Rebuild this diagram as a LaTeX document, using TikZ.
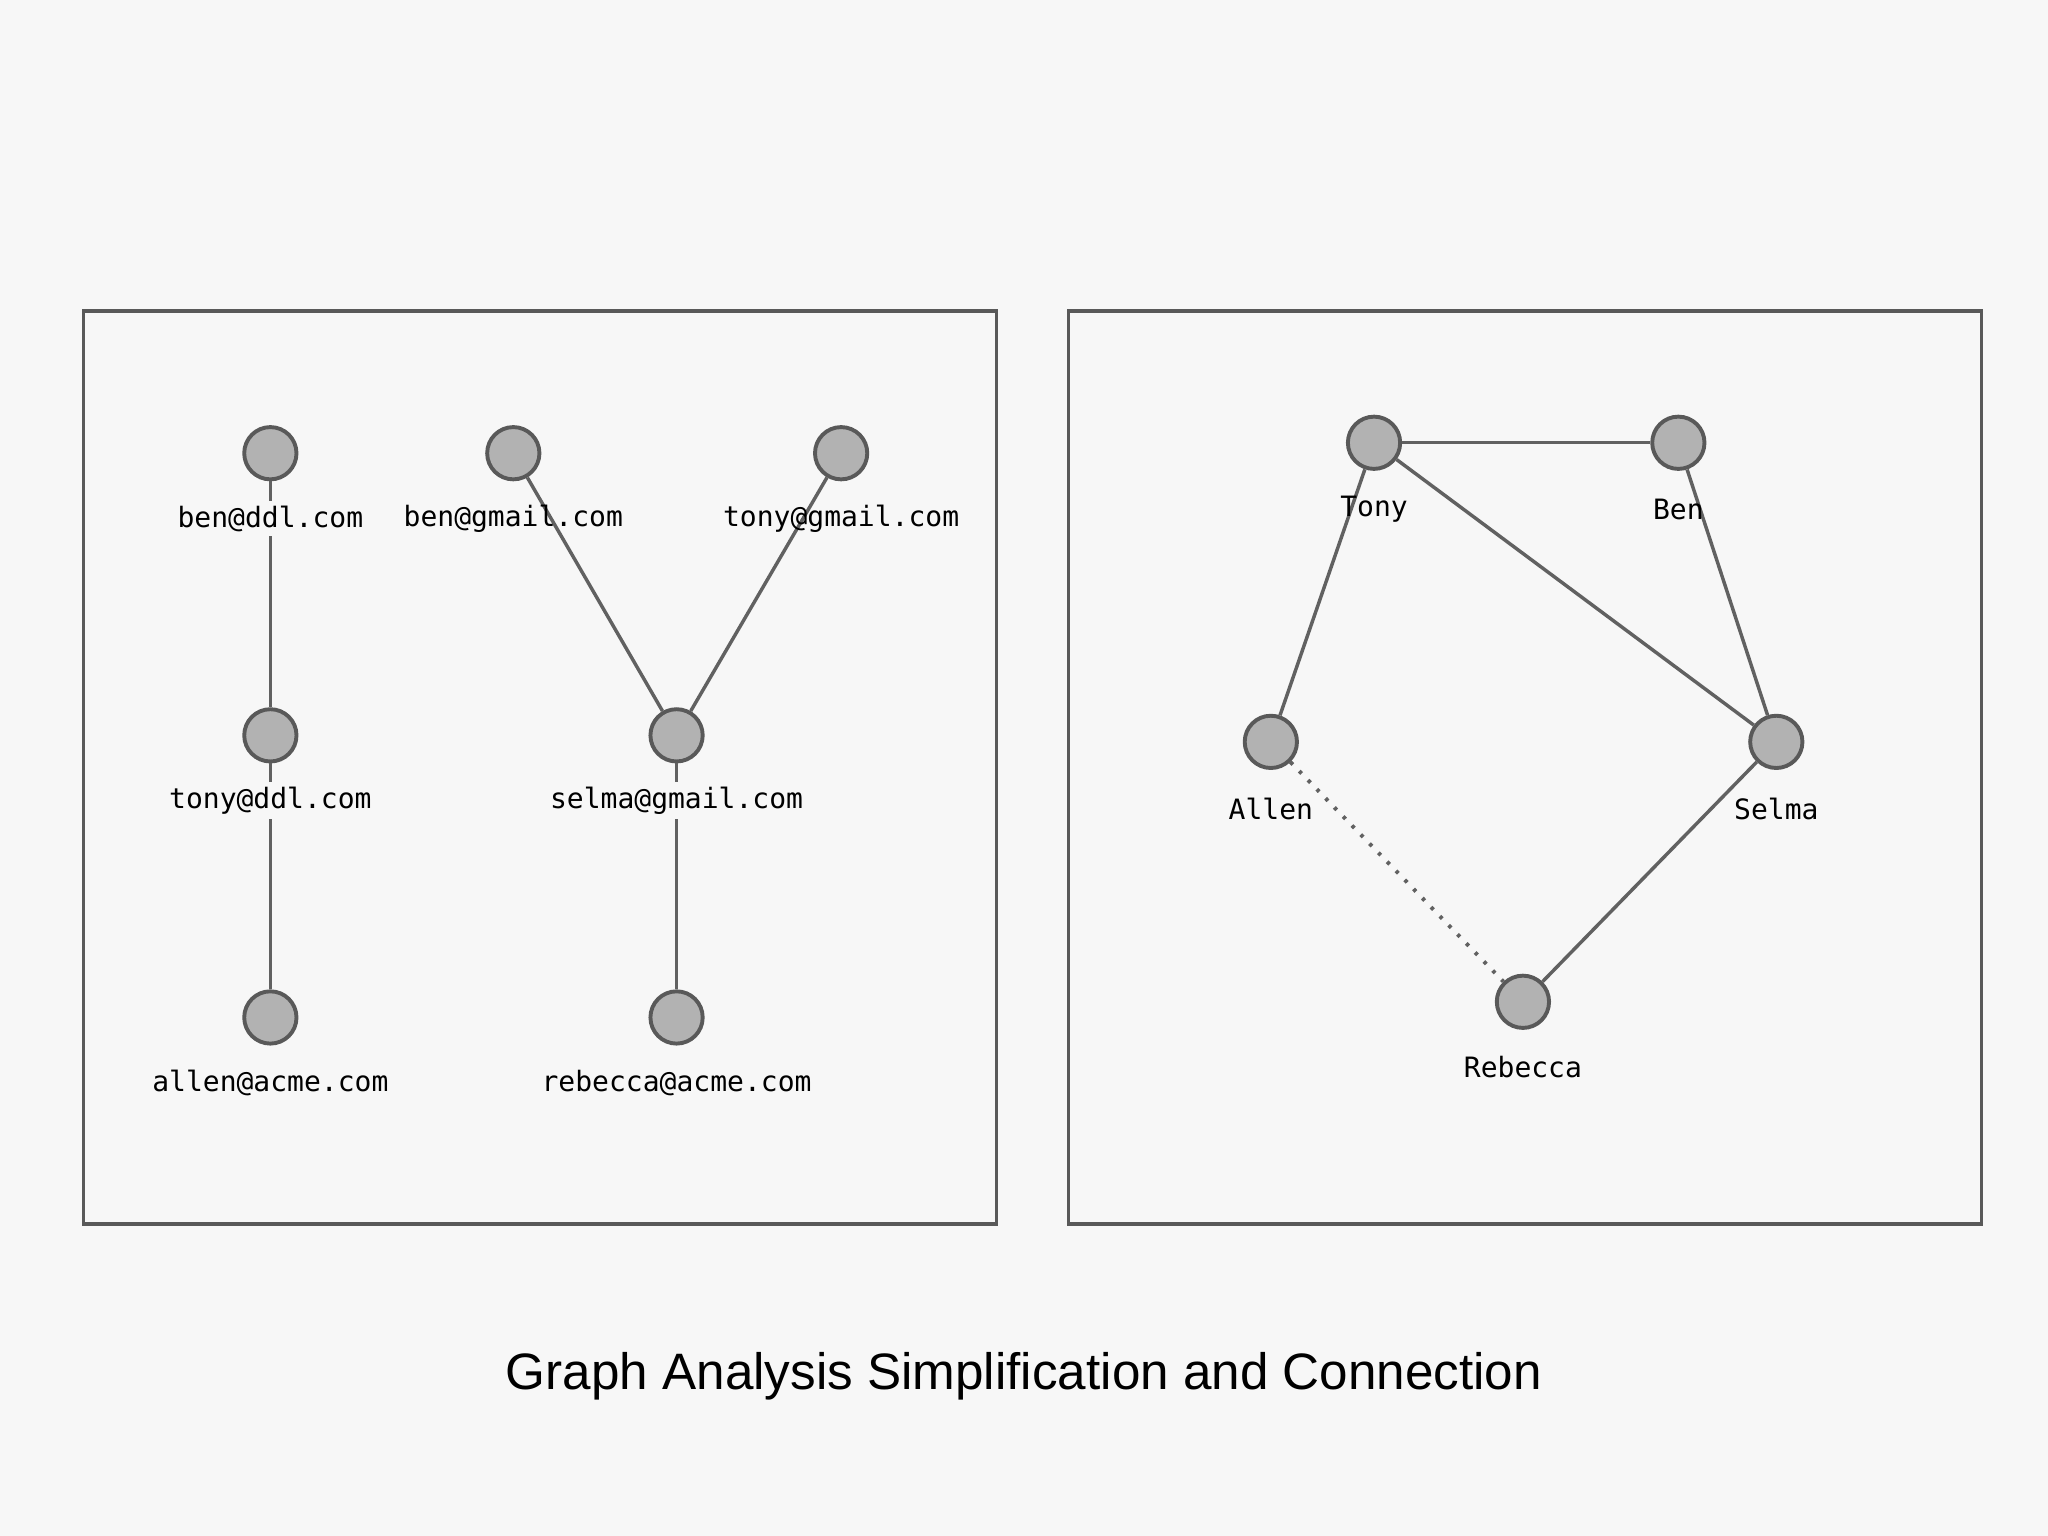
\documentclass[tikz,border=0pt]{standalone}
\usepackage{fontspec}
\setmainfont{Liberation Sans}
\newfontfamily\monof{DejaVu Sans Mono}
\begin{document}
\begin{tikzpicture}[x=0.01cm,y=-0.01cm,
  vn/.style={circle,draw=black!65,fill=black!30,line width=0.85pt,minimum size=0.4cm,inner sep=0pt},
  lb/.style={font=\monof\fontsize{6.1}{7}\selectfont,fill=black!3,inner sep=1pt},
  e/.style={draw=black!62,line width=0.75pt},
  bx/.style={draw=black!65,line width=0.75pt}]
\fill[black!3] (0,0) rectangle (1568,1176);
\useasboundingbox (0,0) rectangle (1568,1176);
\draw[bx] (64,238) rectangle (763,937);
\draw[bx] (818,238) rectangle (1517,937);
\node[vn] (bd) at (207,347) {};
\node[vn] (td) at (207,563) {};
\node[vn] (ad) at (207,779) {};
\node[vn] (bg) at (393,347) {};
\node[vn] (tg) at (644,347) {};
\node[vn] (sg) at (518,563) {};
\node[vn] (ra) at (518,779) {};
\draw[e] (bd)--(td); \draw[e] (td)--(ad);
\draw[e] (bg)--(sg); \draw[e] (tg)--(sg); \draw[e] (sg)--(ra);
\node[lb] at (207,397) {ben@ddl.com};
\node[lb] at (207,613) {tony@ddl.com};
\node[lb] at (207,829) {allen@acme.com};
\node[lb,fill=none] at (393,397) {ben@gmail.com};
\node[lb,fill=none] at (644,397) {tony@gmail.com};
\node[lb] at (518,613) {selma@gmail.com};
\node[lb] at (518,829) {rebecca@acme.com};
\node[vn] (T) at (1052,339) {};
\node[vn] (B) at (1285,339) {};
\node[vn] (A) at (973,568) {};
\node[vn] (S) at (1360,568) {};
\node[vn] (R) at (1166,767) {};
\draw[e] (T)--(B); \draw[e] (T)--(A); \draw[e] (T)--(S); \draw[e] (B)--(S); \draw[e] (S)--(R);
\draw[e,dotted,line width=0.85pt] (A)--(R);
\node[lb,fill=none] at (1052,390) {Tony};
\node[lb,fill=none] at (1285,390) {Ben};
\node[lb] at (973,619) {Allen};
\node[lb] at (1360,619) {Selma};
\node[lb] at (1166,817) {Rebecca};
\node[font=\fontsize{11.15}{12}\selectfont] at (784,1054) {Graph Analysis Simplification and Connection};
\end{tikzpicture}
\end{document}
